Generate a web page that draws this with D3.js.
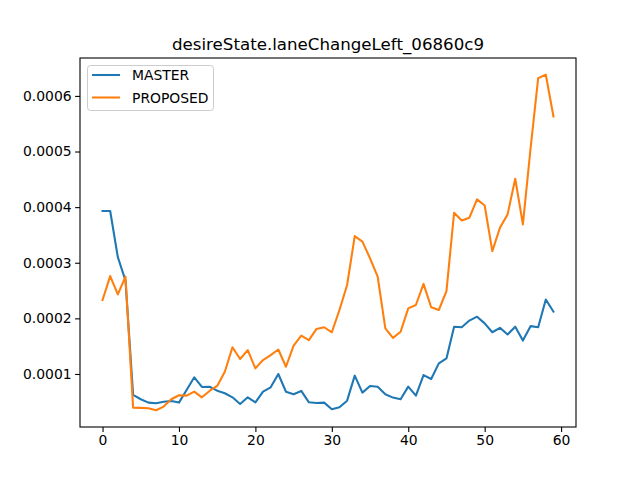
<!DOCTYPE html>
<html><head><meta charset="utf-8">
<script src="https://cdn.jsdelivr.net/npm/d3@7"></script>
<style>body{margin:0;background:#fff;} svg{display:block;font-family:"DejaVu Sans",sans-serif;}</style>
</head><body>
<div id="chart"></div>
<script>
const title = "desireState.laneChangeLeft_06860c9";
const seriesNames = ["MASTER", "PROPOSED"];
const colors = ["#1f77b4", "#ff7f0e"];
const master = [0.000393,0.000393,0.00031,0.000268,0.0000623,0.0000545,0.0000485,0.0000474,0.00005,0.0000515,
 0.0000485,0.0000713,0.000094,0.0000767,0.000077,0.00007,0.0000653,0.000058,0.000046,0.000058,
 0.000049,0.0000683,0.000076,0.0001,0.000068,0.0000635,0.0000695,0.000049,0.0000478,0.0000485,
 0.0000366,0.00004,0.000052,0.000097,0.0000665,0.0000785,0.000077,0.0000635,0.0000575,0.0000545,
 0.0000773,0.000061,0.000098,0.000091,0.000119,0.000128,0.000185,0.000184,0.000196,0.000203,
 0.000191,0.000175,0.000183,0.000171,0.000185,0.00016,0.000186,0.000184,0.000234,0.000212];
const proposed = [0.000233,0.000276,0.000243,0.000275,0.0000395,0.000039,0.0000385,0.0000348,0.0000413,0.0000545,
 0.0000617,0.000061,0.0000683,0.000058,0.0000695,0.0000785,0.000104,0.000148,0.000127,0.000143,
 0.00011,0.000125,0.000134,0.000144,0.000113,0.000151,0.000169,0.000161,0.000181,0.000184,
 0.000175,0.000215,0.00026,0.000348,0.000338,0.000308,0.000275,0.000182,0.000165,0.000176,
 0.000218,0.000224,0.000262,0.00022,0.000215,0.000249,0.00039,0.000376,0.000381,0.000414,
 0.000403,0.000321,0.000363,0.000387,0.000451,0.000369,0.000505,0.000632,0.000638,0.000563];
const xTicks = [0,10,20,30,40,50,60];
const yTicks = [0.0001,0.0002,0.0003,0.0004,0.0005,0.0006];
const yTickLabels = ["0.0001","0.0002","0.0003","0.0004","0.0005","0.0006"];

const W = 640, H = 480;
const L = 80, R = 576, T = 58, B = 427;
const svg = d3.select("#chart").append("svg").attr("width", W).attr("height", H);
const n = master.length;
const xPad = (n - 1) * 0.05;
const x = d3.scaleLinear().domain([-xPad, n - 1 + xPad]).range([L, R]);
const all = master.concat(proposed);
const ymin = d3.min(all), ymax = d3.max(all), yPad = (ymax - ymin) * 0.05;
const y = d3.scaleLinear().domain([ymin - yPad, ymax + yPad]).range([B, T]);

const xAxis = svg.append("g").attr("transform", `translate(0,${B})`)
  .call(d3.axisBottom(x).tickValues(xTicks).tickSize(4.9).tickPadding(3.5).tickFormat(d3.format("d")));
const yAxis = svg.append("g").attr("transform", `translate(${L},0)`)
  .call(d3.axisLeft(y).tickValues(yTicks).tickSize(4.9).tickPadding(3.5).tickFormat((d,i)=>yTickLabels[i]));
[xAxis, yAxis].forEach(g => {
  g.select(".domain").remove();
  g.selectAll(".tick line").attr("stroke", "#000").attr("stroke-width", 1.1);
  g.selectAll(".tick text").attr("fill", "#000").style("font-size", "13.9px").style("font-family", "DejaVu Sans");
});

const line = d3.line().x((d, i) => x(i)).y(d => y(d));
[master, proposed].forEach((s, k) => {
  svg.append("path").datum(s).attr("d", line).attr("fill", "none")
    .attr("stroke", colors[k]).attr("stroke-width", 2.08).attr("stroke-linejoin", "round").attr("stroke-linecap", "square");
});

svg.append("rect").attr("x", L).attr("y", T).attr("width", R - L).attr("height", B - T)
  .attr("fill", "none").attr("stroke", "#000").attr("stroke-width", 1.1);

svg.append("text").attr("x", (L + R) / 2).attr("y", 50).attr("text-anchor", "middle")
  .style("font-size", "16.67px").attr("fill", "#000").text(title);

const lg = svg.append("g");
lg.append("rect").attr("x", 87.5).attr("y", 65.5).attr("width", 126).attr("height", 45).attr("rx", 3)
  .attr("fill", "#fff").attr("fill-opacity", 0.8).attr("stroke", "#ccc").attr("stroke-width", 1);
seriesNames.forEach((nm, k) => {
  const yy = 75 + k * 22.5;
  lg.append("line").attr("x1", 92).attr("x2", 120).attr("y1", yy).attr("y2", yy)
    .attr("stroke", colors[k]).attr("stroke-width", 2.08);
  lg.append("text").attr("x", 132).attr("y", yy + 5).style("font-size", "13.9px").attr("fill", "#000").text(nm);
});
</script>
</body></html>
